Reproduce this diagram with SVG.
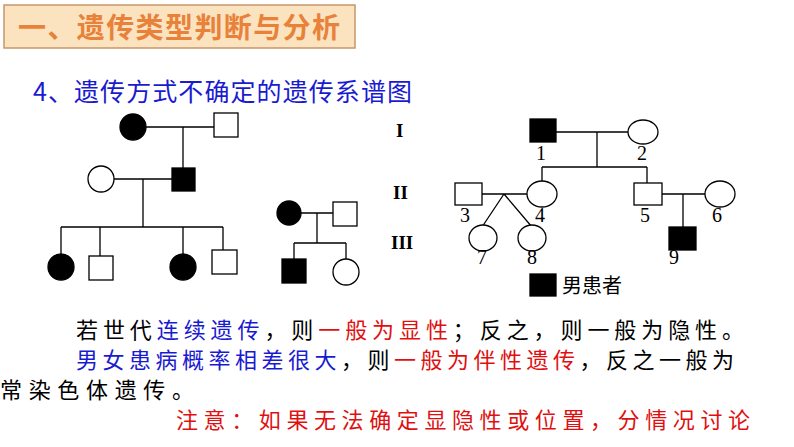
<svg xmlns="http://www.w3.org/2000/svg" width="794" height="447" viewBox="0 0 794 447">
<style>
.s{stroke:#000;stroke-width:1.3;fill:#fff}
.f{stroke:#000;stroke-width:1.3;fill:#000}
.l{stroke:#000;stroke-width:1.3;fill:none}
.n{font-family:"Liberation Serif",serif;font-size:20px;fill:#000}
.r{font-family:"Liberation Serif",serif;font-size:19px;font-weight:bold;fill:#000}
.t{font-family:"Noto Sans CJK SC",sans-serif;font-size:20px;fill:#000}
</style>
<rect width="794" height="447" fill="#fff"/>
<g id="title"><rect x="4" y="5" width="351" height="43" fill="#fce3c0" stroke="#c8966a" stroke-width="1.5"/>
<text x="18" y="38" font-family="Noto Sans CJK SC,sans-serif" font-size="28" font-weight="bold" fill="#e8823a" textLength="322">一、遗传类型判断与分析</text></g>
<text x="33" y="101" font-family="Noto Sans CJK SC,sans-serif" font-size="25" fill="#1a1ad0" textLength="379">4、遗传方式不确定的遗传系谱图</text>
<g id="connectors">
<path class="l" d="M146 127H214M183 127V168M114 179H172M143 179V227M61 227H223M61 227V254M100 227V256M183 227V254M223 227V250"/>
<path class="l" d="M301 213H333M317 213V243M294 243H346M294 243V259M346 243V259"/>
<path class="l" d="M556 132H628M597 132V167M542 167H647M542 167V181M647 167V183M482 194H527M504 194L482 227M504 194L532 227M662 194H705M683 194V227"/>
</g>
<g id="p1"><circle class="f" cx="133" cy="127" r="13"/><rect class="s" x="214" y="113" width="24" height="24"/><rect class="f" x="172" y="168" width="23" height="23"/><circle class="s" cx="101" cy="179" r="13"/>
<circle class="f" cx="61" cy="267" r="13"/><rect class="s" x="89" y="256" width="24" height="24"/><circle class="f" cx="183" cy="267" r="13"/><rect class="s" x="212" y="250" width="25" height="24"/></g>
<g id="p2"><circle class="f" cx="289" cy="213" r="12"/><rect class="s" x="333" y="202" width="24" height="24"/><rect class="f" x="282" y="259" width="24" height="24"/><circle class="s" cx="346" cy="272" r="13"/></g>
<g id="p3">
<text class="r" x="396" y="137">I</text><text class="r" x="393" y="199">II</text><text class="r" x="391" y="249">III</text>
<rect class="f" x="530" y="119" width="26" height="23"/><ellipse class="s" cx="643" cy="132" rx="15" ry="12"/>
<rect class="s" x="455" y="183" width="27" height="22"/><ellipse class="s" cx="542" cy="194" rx="15" ry="13"/>
<rect class="s" x="634" y="183" width="28" height="22"/><ellipse class="s" cx="720" cy="194" rx="15" ry="13"/>
<ellipse class="s" cx="483" cy="238" rx="14" ry="13"/><ellipse class="s" cx="532" cy="238" rx="14" ry="13"/>
<rect class="f" x="669" y="227" width="27" height="23"/>
<text class="n" x="536" y="160">1</text><text class="n" x="637" y="160">2</text><text class="n" x="460" y="222">3</text><text class="n" x="535" y="222">4</text><text class="n" x="640" y="222">5</text><text class="n" x="712" y="222">6</text><text class="n" x="477" y="264">7</text><text class="n" x="527" y="264">8</text><text class="n" x="669" y="264">9</text>
<rect class="f" x="530" y="274" width="26" height="22"/><text class="t" x="562" y="293">男患者</text>
</g>
<g font-family="Noto Sans CJK SC,sans-serif" font-size="22">
<text x="76" y="338" textLength="668">若世代<tspan fill="#1a1ad0">连续遗传</tspan>，则<tspan fill="#e01010">一般为显性</tspan>；反之，则一般为隐性。</text>
<text x="76" y="368" textLength="658"><tspan fill="#1a1ad0">男女患病概率相差很大</tspan>，则<tspan fill="#e01010">一般为伴性遗传</tspan>，反之一般为</text>
<text x="0" y="398" textLength="194">常染色体遗传。</text>
<text x="176" y="428" fill="#e01010" textLength="574">注意：如果无法确定显隐性或位置，分情况讨论</text>
</g>
</svg>
